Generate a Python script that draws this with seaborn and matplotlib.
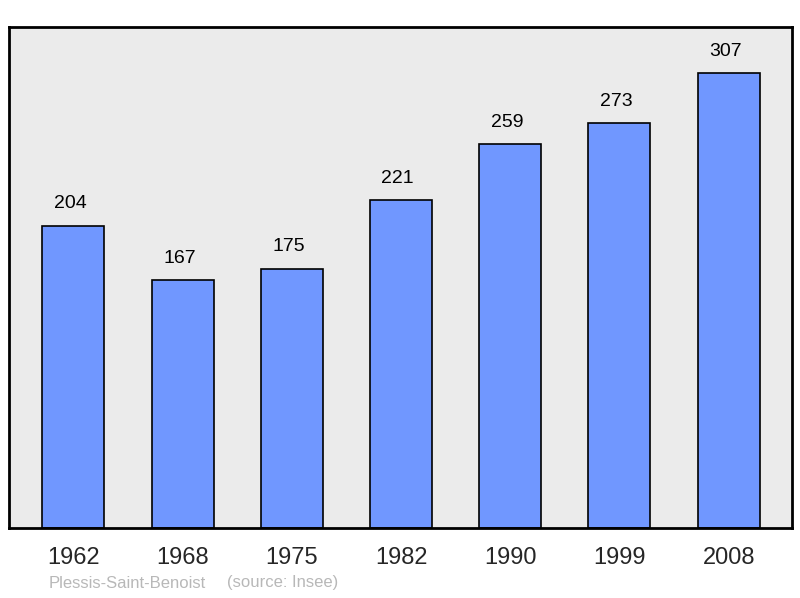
import matplotlib
matplotlib.use("Agg")
import matplotlib.pyplot as plt
import seaborn as sns

years = ["1962", "1968", "1975", "1982", "1990", "1999", "2008"]
population = [204, 167, 175, 221, 259, 273, 307]

sns.set_style("white")
plt.rcParams['font.family'] = ['Liberation Sans', 'DejaVu Sans']

fig = plt.figure(figsize=(8, 5.98), dpi=100)
ax = fig.add_axes([9 / 800, 1 - 528 / 598, 783 / 800, 501 / 598])
ax.set_facecolor('#ebebeb')

sns.barplot(x=years, y=population, color='#7097ff', saturation=1,
            width=0.567, edgecolor='black', linewidth=1.2, ax=ax)

for i, v in enumerate(population):
    ax.text(i - 0.03, v + 9, str(v), ha='center', va='bottom', fontsize=14, color='black')

ax.set_xlim(-0.59, 6.58)
ax.set_ylim(0, 338)
ax.set_yticks([])
ax.set_xlabel('')
ax.set_ylabel('')
ax.tick_params(axis='x', length=0, pad=14, labelsize=17)
for s in ax.spines.values():
    s.set_linewidth(2)
    s.set_color('black')

fig.text(49 / 800, 1 - 583 / 598, 'Plessis-Saint-Benoist', fontsize=12,
         color='#b8b8b8', va='center', ha='left')
fig.text(227 / 800, 1 - 583 / 598, '(source: Insee)', fontsize=12,
         color='#b8b8b8', va='center', ha='left')

fig.savefig('out.png', dpi=100, facecolor='white')
